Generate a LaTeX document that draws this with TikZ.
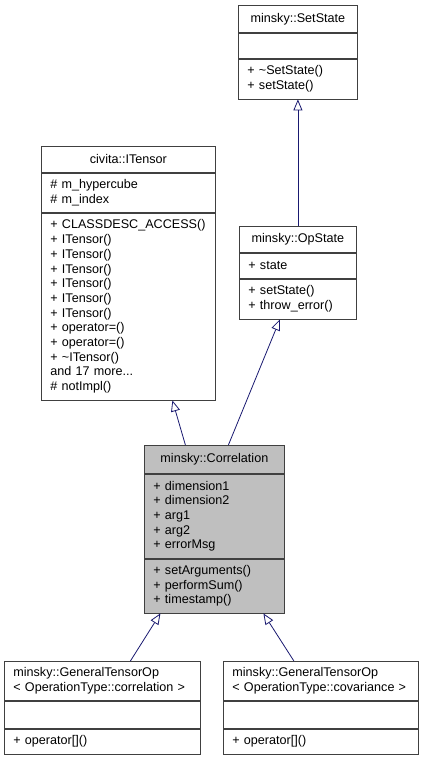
\documentclass[tikz,border=0pt]{standalone}
\usepackage{fontspec}
\setmainfont{Liberation Sans}
\usepackage{tikz}
\usetikzlibrary{arrows.meta, positioning}
\definecolor{boxline}{RGB}{64,64,64}
\definecolor{edgeblue}{RGB}{25,25,112}
\definecolor{corrfill}{RGB}{191,191,191}
\tikzset{
  classbox/.style={rectangle, draw=boxline, line width=0.8pt, anchor=north west, inner xsep=9pt, inner ysep=0pt, align=left, font=\fontsize{12.6}{14.7}\selectfont},
  classname/.style={classbox, align=center},
  inherit/.style={draw=edgeblue, line width=0.8pt, -{Triangle[open, length=11pt, width=9pt, fill=white]}},
}
\begin{document}
\begin{tikzpicture}[x=1pt, y=-1pt]
\useasboundingbox (0,0) rectangle (424,757);

% minsky::SetState
\node[classname, text width=101pt, minimum height=27pt] (setstate) at (238,5) {minsky::SetState};
\node[classbox, text width=101pt, minimum height=25pt] (setstateattr) at (setstate.south west) {};
\node[classbox, text width=101pt, minimum height=40pt] (setstateops) at (setstateattr.south west) {+ \textasciitilde SetState()\\+ setState()};

% civita::ITensor
\node[classname, text width=156pt, minimum height=26pt] (itensor) at (41,146) {civita::ITensor};
\node[classbox, text width=156pt, minimum height=39pt] (itensorattr) at (itensor.south west) {\# m\_hypercube\\\# m\_index};
\node[classbox, text width=156pt, minimum height=187pt] (itensorops) at (itensorattr.south west) {\mbox{+ CLASSDESC\_ACCESS()}\\+ ITensor()\\+ ITensor()\\+ ITensor()\\+ ITensor()\\+ ITensor()\\+ ITensor()\\+ operator=()\\+ operator=()\\+ \textasciitilde ITensor()\\and 17 more...\\\# notImpl()};

% minsky::OpState
\node[classname, text width=99pt, minimum height=26pt] (opstate) at (239,226) {minsky::OpState};
\node[classbox, text width=99pt, minimum height=25pt] (opstateattr) at (opstate.south west) {+ state};
\node[classbox, text width=99pt, minimum height=40pt] (opstateops) at (opstateattr.south west) {+ setState()\\+ throw\_error()};

% minsky::Correlation
\node[classname, fill=corrfill, text width=122pt, minimum height=28pt] (corr) at (144,445) {minsky::Correlation};
\node[classbox, fill=corrfill, text width=122pt, minimum height=84pt] (corrattr) at (corr.south west) {+ dimension1\\+ dimension2\\+ arg1\\+ arg2\\+ errorMsg};
\node[classbox, fill=corrfill, text width=122pt, minimum height=54pt] (corrops) at (corrattr.south west) {+ setArguments()\\+ performSum()\\+ timestamp()};

% minsky::GeneralTensorOp< OperationType::correlation >
\node[classbox, text width=178pt, minimum height=39pt] (gtocorr) at (4,661) {minsky::GeneralTensorOp\\< OperationType::correlation >};
\node[classbox, text width=178pt, minimum height=27pt] (gtocorrattr) at (gtocorr.south west) {};
\node[classbox, text width=178pt, minimum height=25pt] (gtocorrops) at (gtocorrattr.south west) {+ operator[]()};

% minsky::GeneralTensorOp< OperationType::covariance >
\node[classbox, text width=177pt, minimum height=39pt] (gtocov) at (223,661) {minsky::GeneralTensorOp\\< OperationType::covariance >};
\node[classbox, text width=177pt, minimum height=27pt] (gtocovattr) at (gtocov.south west) {};
\node[classbox, text width=177pt, minimum height=25pt] (gtocovops) at (gtocovattr.south west) {+ operator[]()};

\draw[inherit] (opstate.north) -- (setstateops.south);
\draw[inherit] ([xshift=-29pt]corr.north) -- ([xshift=44pt]itensorops.south);
\draw[inherit] ([xshift=14pt]corr.north) -- ([xshift=-18pt]opstateops.south);
\draw[inherit] ([xshift=28pt]gtocorr.north) -- ([xshift=-54pt]corrops.south);
\draw[inherit] ([xshift=-27pt]gtocov.north) -- ([xshift=49pt]corrops.south);
\end{tikzpicture}
\end{document}
